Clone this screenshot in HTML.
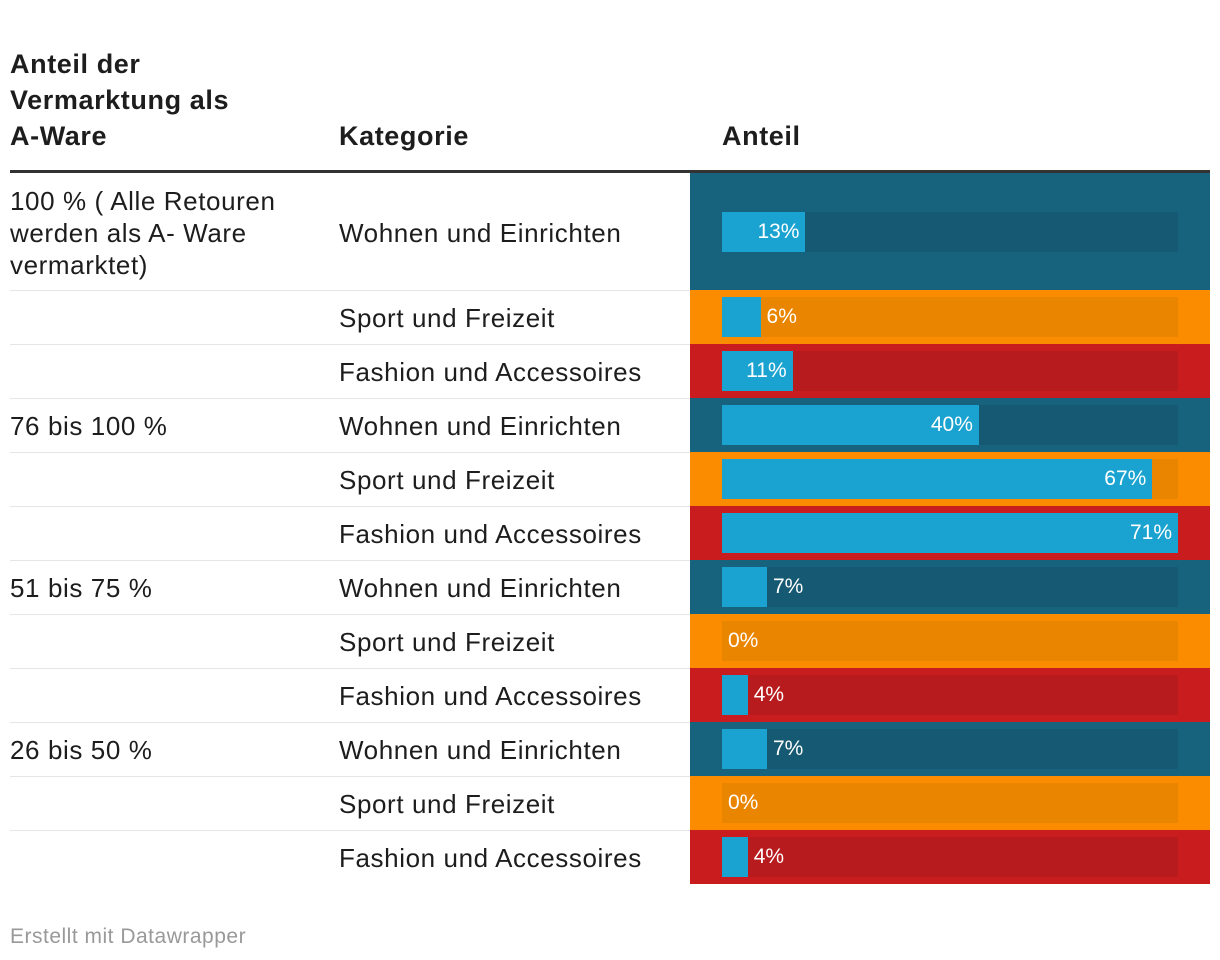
<!DOCTYPE html>
<html><head><meta charset="utf-8">
<style>
body{margin:0;width:1220px;height:960px;background:#fff;font-family:"Liberation Sans",sans-serif;color:#1d1d1d;position:relative;overflow:hidden}
.h{position:absolute;font-weight:bold;font-size:27px;line-height:36px;letter-spacing:0.6px}
.t{position:absolute;font-size:26px;line-height:32px;letter-spacing:0.6px;white-space:nowrap}
.band{position:absolute;left:690px;width:520px}
.track{position:absolute;left:722px;width:456px;height:40px}
.bar{position:absolute;left:722px;height:40px;background:#1aa3d0}
.lbl{position:absolute;height:40px;line-height:40px;font-size:21px;color:#fff;white-space:nowrap}
.sep{position:absolute;left:10px;width:680px;height:1px;background:#e6e6e6}
</style></head><body>
<div class="h" style="left:10px;top:46px;width:300px">Anteil der<br>Vermarktung als<br>A-Ware</div>
<div class="h" style="left:339px;top:118px">Kategorie</div>
<div class="h" style="left:722px;top:118px">Anteil</div>
<div style="position:absolute;left:10px;top:170px;width:1200px;height:3px;background:#333"></div>
<div id="rows"></div>
<div style="position:absolute;left:10px;top:925px;font-size:21px;letter-spacing:0.5px;color:#999">Erstellt mit Datawrapper</div>
<script>
const groups=["100 % ( Alle Retouren<br>werden als A- Ware<br>vermarktet)","","","76 bis 100 %","","","51 bis 75 %","","","26 bis 50 %","",""];
const categories=["Wohnen und Einrichten","Sport und Freizeit","Fashion und Accessoires","Wohnen und Einrichten","Sport und Freizeit","Fashion und Accessoires","Wohnen und Einrichten","Sport und Freizeit","Fashion und Accessoires","Wohnen und Einrichten","Sport und Freizeit","Fashion und Accessoires"];
const values=[13,6,11,40,67,71,7,0,4,7,0,4];
const maxV=Math.max(...values);
const x=v=>v/maxV*456;
const pal={"Wohnen und Einrichten":["#17627c","#155a72"],"Sport und Freizeit":["#fb8c00","#ea8500"],"Fashion und Accessoires":["#c81c1f","#b71b1d"]};
const root=document.getElementById('rows');
let y=173;
values.forEach((v,i)=>{
  const h=i===0?117:54;
  const c=pal[categories[i]];
  const mid=y+h/2;
  const band=document.createElement('div');band.className='band';
  
  
  band.style.top=y+'px';band.style.height=h+'px';band.style.background=c[0];root.appendChild(band);
  const tr=document.createElement('div');tr.className='track';
  
  
  tr.style.top=(mid-20)+'px';tr.style.background=c[1];root.appendChild(tr);
  const w=x(v);
  const b=document.createElement('div');b.className='bar';
  
  
  b.style.top=(mid-20)+'px';b.style.width=w+'px';root.appendChild(b);
  const l=document.createElement('div');l.className='lbl';
  
  
  l.textContent=v+'%';l.style.top=(mid-20)+'px';
  if(v>=10){l.style.left=(722+w-200-6)+'px';l.style.width='200px';l.style.textAlign='right';}
  else{l.style.left=(722+w+6)+'px';}
  root.appendChild(l);
  if(groups[i]){const g=document.createElement('div');g.className='t';
    
    
    g.innerHTML=groups[i];g.style.left='10px';
    const lines=groups[i].split('<br>').length;g.style.top=(mid-lines*16+1)+'px';root.appendChild(g);}
  const cl=document.createElement('div');cl.className='t';
  
  
  cl.textContent=categories[i];cl.style.left='339px';cl.style.top=(mid-15)+'px';root.appendChild(cl);
  y+=h;
  if(i<values.length-1){const s=document.createElement('div');s.className='sep';
    
    
    s.style.top=y+'px';root.appendChild(s);}
});
</script>
</body></html>
